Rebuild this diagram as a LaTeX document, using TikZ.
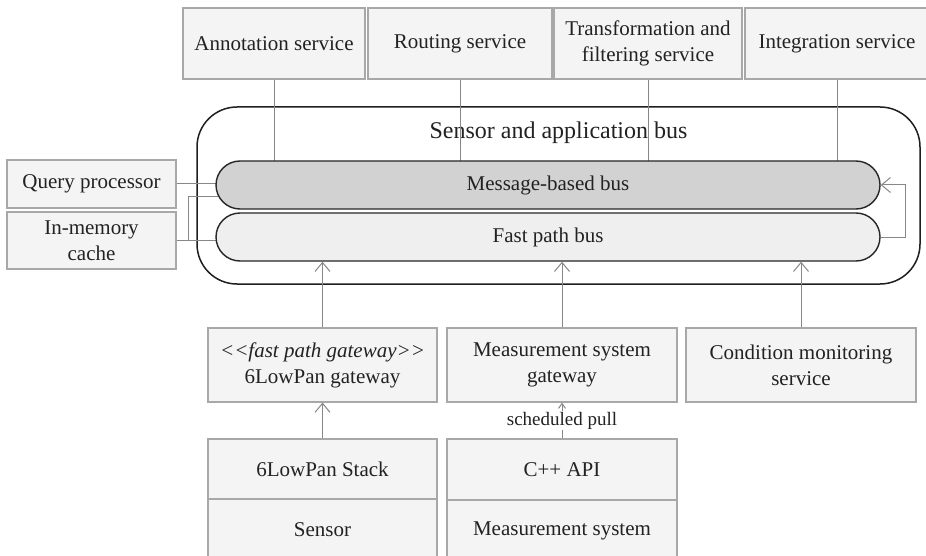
\documentclass[tikz,border=0pt]{standalone}
\usepackage{fontspec}
\setmainfont{Liberation Serif}
\usetikzlibrary{arrows.meta}
\definecolor{boxfill}{RGB}{244,244,244}
\definecolor{boxline}{RGB}{168,168,168}
\definecolor{msgfill}{RGB}{210,210,210}
\definecolor{fastfill}{RGB}{239,239,239}
\definecolor{connline}{RGB}{135,135,135}
\definecolor{txt}{RGB}{34,34,34}
\tikzset{
  svc/.style={draw=boxline, fill=boxfill, line width=1.1pt, inner sep=0pt, align=center,
    text=txt, font=\fontsize{21}{26}\selectfont},
  busbox/.style={draw=black!85, line width=1.4pt, rounded corners=24pt, inner sep=0pt,
    minimum width=664pt, minimum height=48pt, text=txt, font=\fontsize{21}{26}\selectfont},
  conn/.style={draw=connline, line width=1pt},
  openarrow/.style={-{Straight Barb[length=9pt,width=15pt]}},
  smallarrow/.style={-{Straight Barb[length=5pt,width=7pt]}}
}
\begin{document}
\begin{tikzpicture}[x=1pt,y=-1pt]
\useasboundingbox (0,0) rectangle (926,556);
\clip (0,0) rectangle (926,556);
% outer bus
\node[draw=black!88, line width=1.5pt, fill=white, rounded corners=40pt, minimum width=723pt,
  minimum height=177pt, inner sep=0pt] (outer) at (558.5,195.5) {};
\node[text=txt, font=\fontsize{24}{28}\selectfont] (outertitle) at (558.5,133) {Sensor and application bus};
% top services
\node[svc, minimum width=182pt, minimum height=71pt] (ann) at (274,43.5) {Annotation service};
\node[svc, minimum width=184pt, minimum height=71pt] (rout) at (460,43.5) {Routing service};
\node[svc, minimum width=188pt, minimum height=71pt] (trans) at (648,43.5) {Transformation and\\filtering service};
\node[svc, minimum width=184pt, minimum height=71pt] (integ) at (837,43.5) {Integration service};
% buses
\coordinate (mtop) at (548,161);
\foreach \s in {ann,rout,trans,integ}{
  \draw[conn] (\s.south) -- (\s.south |- mtop);
}
% left boxes
\node[svc, minimum width=169pt, minimum height=48pt] (qp) at (91.5,184) {Query processor};
\node[svc, minimum width=169pt, minimum height=57pt] (cache) at (91.5,240.5) {In-memory\\cache};
\coordinate (cachemsg) at (219,197);
\draw[conn] (qp.east) -- (216,184);
\draw[conn] (cache.east) -- (216,240.5);
\draw[conn] ([xshift=12pt]cache.east) |- (cachemsg);
\node[busbox, fill=msgfill] (msg) at (548,185) {Message-based bus};
\node[busbox, fill=fastfill] (fast) at (548,237) {Fast path bus};
\draw[conn, openarrow] (fast.east) -- ++(25,0) |- (msg.east);
% bottom boxes
\node[svc, minimum width=229pt, minimum height=74pt] (lgw) at (322.5,365)
  {\textit{<\kern0pt<fast path gateway>\kern0pt>}\\6LowPan gateway};
\node[svc, minimum width=230pt, minimum height=74pt] (mgw) at (562,365)
  {Measurement system\\gateway};
\node[svc, minimum width=230pt, minimum height=74pt] (cms) at (801,365)
  {Condition monitoring\\service};
\node[svc, minimum width=229pt, minimum height=60pt] (stack) at (322.5,469) {6LowPan Stack};
\node[svc, minimum width=229pt, minimum height=62pt] (sensor) at (322.5,530) {Sensor};
\node[svc, minimum width=230pt, minimum height=61pt] (cpp) at (562,469.5) {C++ API};
\node[svc, minimum width=230pt, minimum height=62pt] (msys) at (562,531) {Measurement system};
% arrows
\draw[conn, openarrow] (lgw.north) -- (lgw.north |- fast.south);
\draw[conn, openarrow] (mgw.north) -- (mgw.north |- fast.south);
\draw[conn, openarrow] (cms.north) -- (cms.north |- fast.south);
\draw[conn, openarrow] (stack.north) -- (lgw.south);
\draw[conn, smallarrow] (cpp.north) -- (mgw.south)
  node[midway, fill=white, inner sep=1pt, text=txt, font=\fontsize{19}{22}\selectfont] (sched) {scheduled pull};
\end{tikzpicture}
\end{document}
